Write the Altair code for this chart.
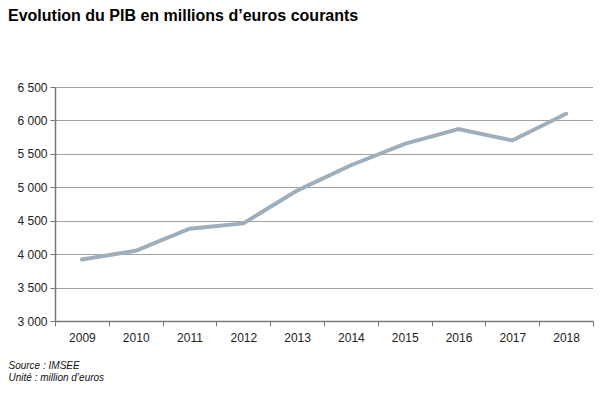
import altair as alt
import pandas as pd

years = ["2009", "2010", "2011", "2012", "2013", "2014", "2015", "2016", "2017", "2018"]
pib = [3920, 4050, 4380, 4460, 4950, 5330, 5650, 5870, 5700, 6100]
y_ticks = [3000, 3500, 4000, 4500, 5000, 5500, 6000, 6500]

df = pd.DataFrame({"annee": years, "pib": pib})

FONT = "Liberation Sans"

chart = alt.Chart(df).mark_line(color="#9dafbd", strokeWidth=4, strokeCap="round").encode(
    x=alt.X("annee:O", scale=alt.Scale(type="band", paddingInner=0, paddingOuter=0),
            axis=alt.Axis(
                labelAngle=0, labelFont=FONT, labelFontSize=12, labelColor="#222",
                labelPadding=6, tickBand="extent", tickSize=5, tickColor="#777",
                domainColor="#777", domainWidth=1.5, grid=False,
                title=["Source : IMSEE", "Unité : million d\u2019euros"],
                titleFont=FONT, titleFontSize=10, titleFontStyle="italic",
                titleFontWeight="normal", titleColor="#111",
                titleAnchor="start", titleAlign="left", titleX=-47, titleY=39,
                titleBaseline="top", titleLineHeight=12)),
    y=alt.Y("pib:Q", scale=alt.Scale(domain=[3000, 6500], nice=False, zero=False),
            axis=alt.Axis(
                values=y_ticks, title=None,
                labelExpr="replace(format(datum.value, ','), ',', ' ')",
                labelFont=FONT, labelFontSize=12, labelColor="#222", labelPadding=3,
                tickSize=5, tickColor="#777", domainColor="#777", domainWidth=1.5,
                grid=True, gridColor="#444", gridDash=[1, 1], gridWidth=1)),
).properties(
    width=538, height=234,
    autosize=alt.AutoSizeParams(type="none"),
    padding={"left": 47, "top": 79, "right": 10, "bottom": 72},
    title=alt.Title("Evolution du PIB en millions d\u2019euros courants",
                    anchor="start", dx=-47, offset=57, font=FONT, fontSize=16,
                    fontWeight="bold", color="#000", frame="group"),
).configure_view(stroke=None)

chart.save("out.html", embed_options={"renderer": "svg", "actions": False})
